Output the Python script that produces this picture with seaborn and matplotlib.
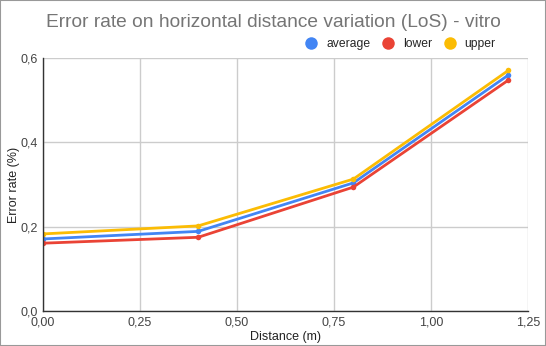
import matplotlib
matplotlib.use("Agg")
import matplotlib.pyplot as plt
import seaborn as sns
import pandas as pd
from matplotlib.ticker import FuncFormatter
from matplotlib.lines import Line2D

distance = [0.0, 0.4, 0.8, 1.2]
average = [0.171, 0.189, 0.304, 0.560]
lower = [0.161, 0.175, 0.294, 0.548]
upper = [0.183, 0.202, 0.313, 0.571]
series_names = ["average", "lower", "upper"]
colors = ["#4285F4", "#EA4335", "#FBBC04"]

df = pd.DataFrame({"distance": distance * 3,
                   "value": average + lower + upper,
                   "series": sum([[n] * len(distance) for n in series_names], [])})

sns.set_theme(style="white")
plt.rcParams['font.family'] = ['Liberation Sans', 'DejaVu Sans']

fig = plt.figure(figsize=(5.46, 3.46), dpi=100)
ax = fig.add_axes([0.0788, 0.101, 0.888, 0.731])

sns.lineplot(data=df, x="distance", y="value", hue="series", hue_order=series_names,
             palette=colors, marker="o", markersize=4, markeredgewidth=0,
             linewidth=2, ax=ax, legend=False)

ax.set_xlim(0, 1.25)
ax.set_ylim(0, 0.6)
ax.set_xticks([0, 0.25, 0.5, 0.75, 1.0, 1.25])
ax.set_yticks([0, 0.2, 0.4, 0.6])
ax.xaxis.set_major_formatter(FuncFormatter(lambda v, p: f"{v:.2f}".replace(".", ",")))
ax.yaxis.set_major_formatter(FuncFormatter(lambda v, p: f"{v:.1f}".replace(".", ",")))
ax.grid(True, color="#cccccc", linewidth=1)
for s in ["top", "right"]:
    ax.spines[s].set_visible(False)
for s in ["left", "bottom"]:
    ax.spines[s].set_color("#333333")
    ax.spines[s].set_linewidth(1)
ax.tick_params(axis="both", labelsize=9, colors="#444444", length=0, pad=4)
ax.set_xlabel("Distance (m)", fontsize=9, color="#222222", labelpad=2)
ax.set_ylabel("Error rate (%)", fontsize=9, color="#222222", labelpad=0)

fig.text(0.5, 0.935, "Error rate on horizontal distance variation (LoS) - vitro",
         ha="center", va="center", fontsize=13.8, color="#757575")

handles = [Line2D([], [], marker="o", linestyle="none", markersize=9,
                  markerfacecolor=c, markeredgewidth=0) for c in colors]
fig.legend(handles, series_names, loc="center right", bbox_to_anchor=(0.917, 0.872),
           ncol=3, frameon=False, fontsize=8.7, handletextpad=0.25, columnspacing=0.45,
           borderaxespad=0)

fig.patches.append(plt.Rectangle((0, 0), 1, 1, transform=fig.transFigure,
                                 fill=False, edgecolor="#999999", linewidth=1.5))
fig.savefig("out.png", dpi=100)
